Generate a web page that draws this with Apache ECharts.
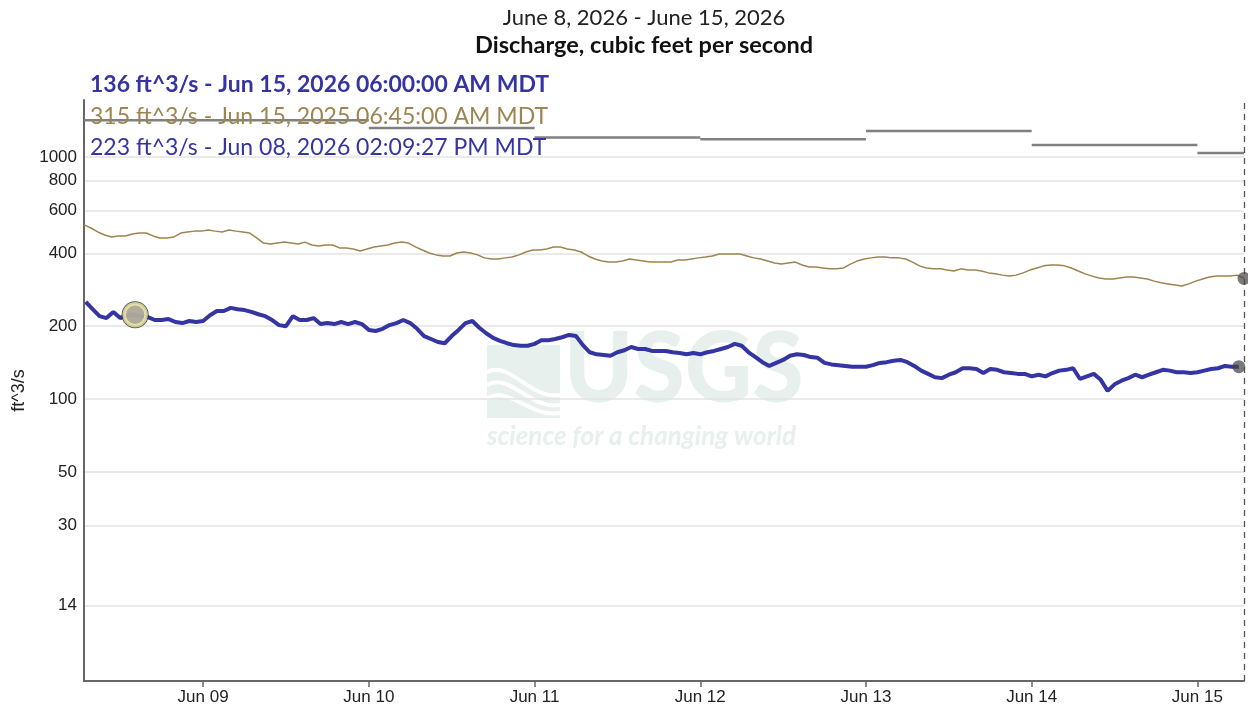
<!DOCTYPE html>
<html><head><meta charset="utf-8">
<script src="https://cdn.jsdelivr.net/npm/echarts@6/dist/echarts.min.js"></script>
<style>html,body{margin:0;padding:0;background:#fff;}#chart{width:1248px;height:708px;}</style>
</head><body><div id="chart"></div>
<script>
const HOUR = 3600000;
// Current year discharge (ft^3/s), hourly from Jun 08, 2026 07:00 MDT to Jun 15, 2026 06:00 MDT
const currentStart = Date.UTC(2026, 5, 8, 7, 0);
const currentValues = [
  252,235,220,216,229,216,222,222,220,218,212,212,214,208,206,210,208,
  210,222,231,231,238,235,233,229,224,220,212,202,200,220,212,212,216,204,206,204,208,204,208,204,
  193,191,195,202,206,212,206,195,182,177,172,170,182,193,206,210,197,187,179,174,170,167,166,166,
  169,175,175,177,180,184,182,167,156,153,152,151,156,159,164,161,161,158,158,158,156,155,153,155,
  153,156,158,161,164,169,166,156,149,142,137,141,145,151,153,152,149,148,141,139,138,137,136,136,
  136,138,141,142,144,145,142,137,131,127,123,122,126,129,134,134,133,128,133,132,129,128,127,127,
  124,126,124,128,131,132,134,121,124,127,120,108,115,119,122,126,123,126,129,132,131,129,129,128,
  129,131,133,134,137,136,136
];
// Prior year discharge (ft^3/s), hourly from Jun 08, 2025 06:45 to Jun 15, 2025 06:45, shown on this year's dates
const priorStart = Date.UTC(2026, 5, 8, 6, 45);
const priorValues = [
  524,509,490,476,467,472,472,481,485,485,472,463,463,467,485,490,494,
  494,499,494,490,499,494,490,485,463,441,437,441,445,441,437,445,433,429,433,433,421,421,417,409,
  417,425,429,433,441,445,441,425,413,401,394,390,390,401,405,401,394,383,379,379,383,386,394,405,
  413,413,417,425,425,417,413,405,390,379,372,368,368,372,379,375,372,368,368,368,368,375,375,379,
  383,386,390,397,397,397,397,390,383,379,372,365,361,365,368,358,351,351,348,345,345,348,361,372,
  379,383,386,386,383,383,379,368,355,348,345,345,341,338,345,341,341,338,332,329,325,322,325,332,
  341,348,355,358,358,355,348,338,329,322,316,313,313,316,319,319,316,313,307,302,299,296,293,299,
  307,313,319,322,322,322,325,315
];
// Daily statistic steps (grey lines at top)
const statDayBounds = ['2026-06-08T06:45','2026-06-09T00:00','2026-06-10T00:00','2026-06-11T00:00','2026-06-12T00:00','2026-06-13T00:00','2026-06-14T00:00','2026-06-15T00:00','2026-06-15T06:45'];
const statValues = [1420,1420,1318,1205,1185,1280,1120,1040];
// Axes
const xTickDates = ['2026-06-09','2026-06-10','2026-06-11','2026-06-12','2026-06-13','2026-06-14','2026-06-15'];
const xTickLabels = ['Jun 09','Jun 10','Jun 11','Jun 12','Jun 13','Jun 14','Jun 15'];
const yTickValues = [14,30,50,100,200,400,600,800,1000];
const xRange = ['2026-06-08T06:45','2026-06-15T06:45'];
const yRange = [6.836, 1720];
// Hover point and readouts
const hoverPoint = ['2026-06-08T14:09:27', 223];
const titleLines = ['June 8, 2026 - June 15, 2026', 'Discharge, cubic feet per second'];
const readouts = [
  '136 ft^3/s - Jun 15, 2026 06:00:00 AM MDT',
  '315 ft^3/s - Jun 15, 2025 06:45:00 AM MDT',
  '223 ft^3/s - Jun 08, 2026 02:09:27 PM MDT'
];

const t = s => Date.parse(s + 'Z');
const currentData = currentValues.map((v, i) => [currentStart + i * HOUR, v]);
const priorData = priorValues.map((v, i) => [priorStart + i * HOUR, v]);
const statData = [];
statValues.forEach((v, i) => {
  statData.push([t(statDayBounds[i]), v]);
  statData.push([t(statDayBounds[i + 1]), v]);
  statData.push([t(statDayBounds[i + 1]), null]);
});
const xTicks = xTickDates.map(d => t(d + 'T00:00'));
const BLUE = '#3434a2', TAN = '#9d8550', WM = '#e7f0ed';
const FONT = 'Lato';

const chart = echarts.init(document.getElementById('chart'), null, {renderer: 'canvas'});
chart.setOption({
  animation: false,
  backgroundColor: '#fff',
  grid: {left: 84, right: 4, top: 100, bottom: 27, containLabel: false},
  xAxis: {
    type: 'value', min: t(xRange[0]), max: t(xRange[1]), scale: true,
    axisLine: {show: true, onZero: false, lineStyle: {color: '#666', width: 2}},
    axisTick: {show: true, customValues: xTicks, length: 6, lineStyle: {color: '#666', width: 1.5}},
    axisLabel: {customValues: xTicks, margin: 8, color: '#222', fontSize: 17, fontFamily: 'Liberation Sans',
      formatter: v => xTickLabels[xTicks.indexOf(v)] || ''},
    splitLine: {show: false}
  },
  yAxis: {
    type: 'log', logBase: 10, min: yRange[0], max: yRange[1],
    name: 'ft^3/s', nameLocation: 'middle', nameGap: 52,
    nameTextStyle: {color: '#222', fontSize: 18, fontFamily: 'Liberation Sans'},
    axisLine: {show: true, lineStyle: {color: '#666', width: 2}},
    axisTick: {show: false, customValues: yTickValues},
    axisLabel: {customValues: yTickValues, margin: 7, color: '#222', fontSize: 17, fontFamily: 'Liberation Sans',
      formatter: v => String(Math.round(v))},
    splitLine: {show: true, lineStyle: {color: '#e3e3e3', width: 1.5}}
  },
  series: [
    {type: 'line', name: 'stat', data: statData, symbol: 'none', connectNulls: false, silent: true, z: 3,
      lineStyle: {color: '#808080', width: 2.5}},
    {type: 'line', name: 'prior', data: priorData, symbol: 'none', silent: true, z: 4,
      lineStyle: {color: TAN, width: 1.5},
      markLine: {symbol: 'none', silent: true, label: {show: false},
        lineStyle: {type: [6, 5], color: '#555', width: 1.3}, data: [{xAxis: t(xRange[1]) - 60000}]}},
    {type: 'line', name: 'current', data: currentData, symbol: 'none', silent: true, z: 5,
      lineStyle: {color: BLUE, width: 4}},
    {type: 'scatter', name: 'ends', silent: true, z: 6, symbolSize: 13,
      itemStyle: {color: 'rgba(65,65,65,0.88)'},
      data: [currentData[currentData.length - 1], priorData[priorData.length - 1]]},
    {type: 'scatter', name: 'hoverRing', silent: true, z: 7, symbolSize: 27,
      itemStyle: {color: '#1a1a1a'}, data: [[t(hoverPoint[0]), hoverPoint[1]]]},
    {type: 'scatter', name: 'hoverDot', silent: true, z: 8, symbolSize: 22,
      itemStyle: {color: '#c9c6b4', borderColor: '#f1ebaa', borderWidth: 3.5}, data: [[t(hoverPoint[0]), hoverPoint[1]]]}
  ],
  graphic: [
    {type: 'rect', z: 0, shape: {x: 487, y: 345, width: 73, height: 73}, style: {fill: WM}},
    {type: 'bezierCurve', z: 0, shape: {x1: 487, y1: 372, x2: 560, y2: 395, cpx1: 510, cpy1: 360, cpx2: 530, cpy2: 400}, style: {stroke: '#fff', lineWidth: 4, fill: null}},
    {type: 'bezierCurve', z: 0, shape: {x1: 487, y1: 385, x2: 560, y2: 405, cpx1: 510, cpy1: 372, cpx2: 530, cpy2: 410}, style: {stroke: '#fff', lineWidth: 4, fill: null}},
    {type: 'bezierCurve', z: 0, shape: {x1: 487, y1: 398, x2: 560, y2: 413, cpx1: 510, cpy1: 386, cpx2: 530, cpy2: 418}, style: {stroke: '#fff', lineWidth: 4, fill: null}},
    {type: 'text', z: 0, x: 564, y: 419, scaleX: 0.95, style: {text: 'USGS', fill: WM, fontSize: 98, fontWeight: 900, fontFamily: FONT, verticalAlign: 'bottom', align: 'left'}},
    {type: 'text', z: 0, x: 487, y: 437, style: {text: 'science for a changing world', fill: WM, fontSize: 26, fontStyle: 'italic', fontWeight: 'bold', fontFamily: FONT, verticalAlign: 'middle', align: 'left'}},
    {type: 'text', z: 50, x: 644, y: 18, style: {text: titleLines[0], fill: '#222', fontSize: 22, fontFamily: FONT, align: 'center', verticalAlign: 'middle'}},
    {type: 'text', z: 50, x: 644, y: 45, style: {text: titleLines[1], fill: '#111', fontSize: 23.5, fontWeight: 'bold', fontFamily: FONT, align: 'center', verticalAlign: 'middle'}},
    {type: 'text', z: 50, x: 90, y: 85, style: {text: readouts[0], fill: BLUE, fontSize: 23, fontWeight: 'bold', fontFamily: FONT, align: 'left', verticalAlign: 'middle'}},
    {type: 'text', z: 50, x: 90, y: 117, style: {text: readouts[1], fill: TAN, fontSize: 23, fontFamily: FONT, align: 'left', verticalAlign: 'middle'}},
    {type: 'text', z: 50, x: 90, y: 148, style: {text: readouts[2], fill: BLUE, fontSize: 23, fontFamily: FONT, align: 'left', verticalAlign: 'middle'}}
  ]
});
</script></body></html>
